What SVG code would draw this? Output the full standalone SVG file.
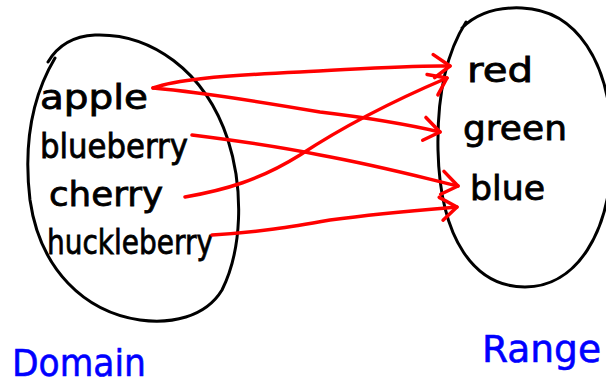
<svg xmlns="http://www.w3.org/2000/svg" width="606" height="385" viewBox="0 0 606 385">
<defs>
<style>
.set{fill:none;stroke:#000;stroke-width:3;stroke-linecap:round;stroke-linejoin:round}
.arr{fill:none;stroke:#ff0000;stroke-width:3.5;stroke-linecap:round;stroke-linejoin:round}
.lbl{font-family:"DejaVu Sans","Liberation Sans",sans-serif;font-size:34px;fill:#000;stroke:#000;stroke-width:0.8}
.cap{font-family:"DejaVu Sans","Liberation Sans",sans-serif;font-size:38px;fill:#0000ff;stroke:#0000ff;stroke-width:0.6}
</style>
<marker id="head" viewBox="-20 -14 24 28" markerWidth="24" markerHeight="28" refX="0" refY="0" orient="auto" markerUnits="userSpaceOnUse">
<path d="M-17,-11 L0,0 L-15,12" fill="none" stroke="#ff0000" stroke-width="3.5" stroke-linecap="round" stroke-linejoin="round"/>
</marker>
</defs>
<rect width="606" height="385" fill="#fff"/>
<g id="domain">
<path class="set" d="M48,62 C58,45 75,36 95,35 C150,33 205,70 228,140 C244,190 242,250 222,290 C205,318 170,324 140,320 C85,312 40,270 30,200 C24,150 30,100 55,58"/>
<text class="lbl" x="40" y="109" textLength="108" lengthAdjust="spacingAndGlyphs">apple</text>
<text class="lbl" x="40" y="158" textLength="148" lengthAdjust="spacingAndGlyphs">blueberry</text>
<text class="lbl" x="49" y="206" textLength="114" lengthAdjust="spacingAndGlyphs">cherry</text>
<text class="lbl" x="47" y="254" textLength="166" lengthAdjust="spacingAndGlyphs">huckleberry</text>
</g>
<g id="range">
<path class="set" d="M462,28 C478,12 500,7 522,8 C575,10 612,60 612,148 C612,235 575,287 525,287 C475,287 440,240 438,150 C437,100 445,55 466,22"/>
<text class="lbl" x="467" y="82" textLength="66" lengthAdjust="spacingAndGlyphs">red</text>
<text class="lbl" x="463" y="140" textLength="104" lengthAdjust="spacingAndGlyphs">green</text>
<text class="lbl" x="470" y="200" textLength="75" lengthAdjust="spacingAndGlyphs">blue</text>
</g>
<g id="domain-label">
<text class="cap" x="12" y="376" textLength="134" lengthAdjust="spacingAndGlyphs">Domain</text>
</g>
<g id="range-label">
<text class="cap" x="482" y="362" textLength="119" lengthAdjust="spacingAndGlyphs">Range</text>
</g>
<g id="connectors">
<path class="arr" marker-end="url(#head)" d="M153,88 C175,80 215,76 300,72 C360,69 410,65 450,66"/>
<path class="arr" marker-end="url(#head)" d="M153,88 C200,92 250,100 320,112 C370,118 410,125 440,132"/>
<path class="arr" marker-end="url(#head)" d="M192,135 C240,141 280,147 320,155 C380,166 420,177 458,186"/>
<path class="arr" marker-end="url(#head)" d="M185,197 C225,190 260,180 300,155 C350,122 400,98 447,78"/>
<path class="arr" marker-end="url(#head)" d="M212,235 C260,232 290,227 330,220 C380,213 420,210 457,207"/>
</g>
</svg>
